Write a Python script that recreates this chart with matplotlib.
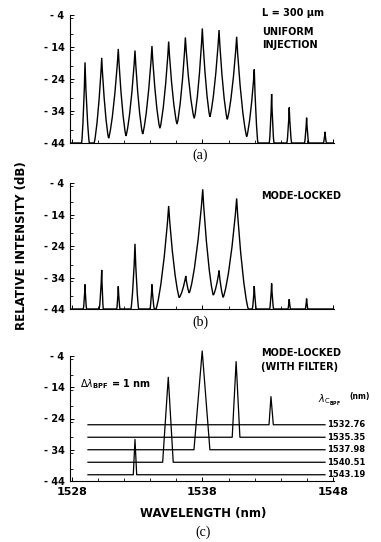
import matplotlib
matplotlib.use("Agg")
import matplotlib.pyplot as plt
from matplotlib.path import Path
from matplotlib.patches import PathPatch
from matplotlib.ticker import MultipleLocator

# ---- panel (a): uniform injection ----
a_peak_nm = [1529.00, 1530.28, 1531.55, 1532.83, 1534.13, 1535.41, 1536.69, 1537.99,
             1539.27, 1540.62, 1541.97, 1543.30, 1544.65, 1545.98, 1547.39]
a_peak_db = [-18.8, -17.4, -14.6, -15.1, -13.7, -12.3, -11.0, -8.2,
             -8.7, -10.8, -21.0, -28.7, -32.9, -36.1, -40.5]
a_left_nm = [1528.74, 1529.70, 1530.81, 1532.14, 1533.42, 1534.74, 1536.05, 1537.37,
             1538.57, 1539.90, 1541.39, 1543.12, 1544.47, 1545.82, 1547.27]
a_left_db = [-44, -44, -42.5, -41.8, -41.2, -39.4, -38.1, -36.3,
             -35.8, -36.6, -42.0, -44, -44, -44, -44]
a_right_nm = [1529.33, 1530.81, 1532.14, 1533.42, 1534.74, 1536.05, 1537.37, 1538.57,
              1539.90, 1541.39, 1542.25, 1543.48, 1544.83, 1546.14, 1547.50]
a_right_db = [-44, -42.5, -41.8, -41.2, -39.4, -38.1, -36.3, -35.8,
              -36.6, -42.0, -44, -44, -44, -44, -44]

# ---- panel (b): mode-locked ----
b_peak_nm = [1529.00, 1530.28, 1531.55, 1532.83, 1534.13, 1535.41, 1536.72, 1538.02,
             1539.27, 1540.62, 1541.97, 1543.30, 1544.65, 1545.98]
b_peak_db = [-36.2, -31.6, -36.8, -23.3, -36.2, -11.3, -33.5, -6.0,
             -31.8, -8.9, -36.7, -35.9, -40.9, -40.7]
b_left_nm = [1528.87, 1530.09, 1531.43, 1532.52, 1533.98, 1534.44, 1536.22, 1536.99,
             1538.83, 1539.59, 1541.82, 1543.15, 1544.55, 1545.88]
b_left_db = [-44, -44, -44, -44, -44, -44, -40.4, -38.9,
             -39.6, -40.3, -44, -44, -44, -44]
b_right_nm = [1529.12, 1530.40, 1531.68, 1533.11, 1534.31, 1536.22, 1536.99, 1538.83,
              1539.59, 1541.51, 1542.12, 1543.45, 1544.75, 1546.08]
b_right_db = [-44, -44, -44, -44, -44, -40.4, -38.9, -39.6,
              -40.3, -44, -44, -44, -44, -44]

# ---- panel (c): mode-locked with filter (offset traces) ----
c_level_db = [-26, -30, -34, -38, -42]
c_labels = ["1532.76", "1535.35", "1537.98", "1540.51", "1543.19"]
c_peak_nm = [1543.25, 1540.58, 1537.98, 1535.38, 1532.83]
c_peak_db = [-17.0, -5.8, -2.4, -10.8, -30.7]
c_left_nm = [1543.10, 1540.28, 1537.35, 1534.95, 1532.70]
c_right_nm = [1543.43, 1540.87, 1538.57, 1535.76, 1532.96]
c_start_nm = 1529.23
c_end_nm = 1547.39

y_ticks = [-4, -14, -24, -34, -44]
y_ticklabels = ["- 4", "- 14", "- 24", "- 34", "- 44"]
x_ticks = [1528, 1538, 1548]
x_ticklabels = ["1528", "1538", "1548"]

W, H = 381, 542
FONT = "DejaVu Sans"


def px(x, y):
    return x / W, 1 - y / H


def spectrum_path(pk_nm, pk_db, l_nm, l_db, r_nm, r_db, x0, x1, floor=-44):
    # each mode: curved skirt from its foot up to the peak and back down
    verts = [(x0, floor)]
    codes = [Path.MOVETO]
    for i in range(len(pk_nm)):
        xp, yp = pk_nm[i], pk_db[i]
        xl, yl = l_nm[i], l_db[i]
        xr, yr = r_nm[i], r_db[i]
        if verts[-1] != (xl, yl):
            verts.append((xl, yl))
            codes.append(Path.LINETO)
        verts += [(xl + 0.30 * (xp - xl), yl + 0.10 * (yp - yl)),
                  (xl + 0.75 * (xp - xl), yl + 0.55 * (yp - yl)),
                  (xp, yp)]
        verts += [(xr + 0.75 * (xp - xr), yr + 0.55 * (yp - yr)),
                  (xr + 0.30 * (xp - xr), yr + 0.10 * (yp - yr)),
                  (xr, yr)]
        codes += [Path.CURVE4] * 6
    verts.append((x1, floor))
    codes.append(Path.LINETO)
    return Path(verts, codes)


def style_axes(ax, xlabels=False):
    ax.set_xlim(1527.85, 1548.08)
    ax.set_ylim(-44, -4)
    for s in ("top", "right"):
        ax.spines[s].set_visible(False)
    for s in ("left", "bottom"):
        ax.spines[s].set_linewidth(0.8)
    ax.set_yticks(y_ticks)
    ax.set_yticklabels(y_ticklabels, fontfamily=FONT, fontweight="bold", fontsize=7)
    ax.yaxis.set_minor_locator(MultipleLocator(5))
    ax.set_xticks(x_ticks)
    ax.xaxis.set_minor_locator(MultipleLocator(2))
    if xlabels:
        ax.set_xticklabels(x_ticklabels, fontfamily=FONT, fontweight="bold", fontsize=8)
    else:
        ax.set_xticklabels([])
    ax.tick_params(which="major", direction="in", length=3, width=0.7, pad=4)
    ax.tick_params(which="minor", direction="in", length=2, width=0.6)


fig = plt.figure(figsize=(W / 100, H / 100), dpi=100)
ax_a = fig.add_axes([70 / W, 1 - 143 / H, 264 / W, 128 / H])
ax_b = fig.add_axes([70 / W, 1 - 309 / H, 264 / W, 126 / H])
ax_c = fig.add_axes([70 / W, 1 - 481 / H, 264 / W, 125 / H])

for ax, data in ((ax_a, (a_peak_nm, a_peak_db, a_left_nm, a_left_db, a_right_nm, a_right_db)),
                 (ax_b, (b_peak_nm, b_peak_db, b_left_nm, b_left_db, b_right_nm, b_right_db))):
    style_axes(ax)
    path = spectrum_path(*data, x0=1527.85, x1=1548.0)
    ax.add_patch(PathPatch(path, fill=False, ec="black", lw=1.0, clip_on=False))

style_axes(ax_c, xlabels=True)
for i, lvl in enumerate(c_level_db):
    xs = [c_start_nm, c_left_nm[i], c_peak_nm[i], c_right_nm[i], c_end_nm]
    ys = [lvl, lvl, c_peak_db[i], lvl, lvl]
    ax_c.plot(xs, ys, color="black", lw=0.9, clip_on=False)
    ax_c.text(c_end_nm + 0.15, lvl, c_labels[i], fontfamily=FONT, fontweight="bold",
              fontsize=6, va="center", ha="left", clip_on=False)

bold = dict(fontfamily=FONT, fontweight="bold")
fig.text(*px(262, 13), "L = 300 μm", fontsize=7, va="center", **bold)
fig.text(*px(262, 32), "UNIFORM", fontsize=7, va="center", **bold)
fig.text(*px(262, 45), "INJECTION", fontsize=7, va="center", **bold)
fig.text(*px(261, 196), "MODE-LOCKED", fontsize=7, va="center", **bold)
fig.text(*px(261, 353), "MODE-LOCKED", fontsize=7, va="center", **bold)
fig.text(*px(261, 367), "(WITH FILTER)", fontsize=7, va="center", **bold)
fig.text(*px(80, 384), r"$\Delta\lambda_{\mathbf{BPF}}$ = 1 nm", fontsize=7, va="center", **bold)
fig.text(*px(318, 400), r"$\lambda_{\mathrm{C}_{\mathbf{BPF}}}$", fontsize=7, va="center", **bold)
fig.text(*px(349, 396), "(nm)", fontsize=5.5, va="center", **bold)

serif = dict(fontfamily="Liberation Serif", fontsize=10, ha="center", va="center")
fig.text(*px(200, 155), "(a)", **serif)
fig.text(*px(200, 322), "(b)", **serif)
fig.text(*px(203, 532), "(c)", **serif)

fig.text(*px(203, 513), "WAVELENGTH (nm)", fontsize=8.5, ha="center", va="center", **bold)
fig.text(*px(22, 246), "RELATIVE INTENSITY (dB)", fontsize=8.5, rotation=90,
         ha="center", va="center", **bold)

fig.savefig("out.png", dpi=100)
